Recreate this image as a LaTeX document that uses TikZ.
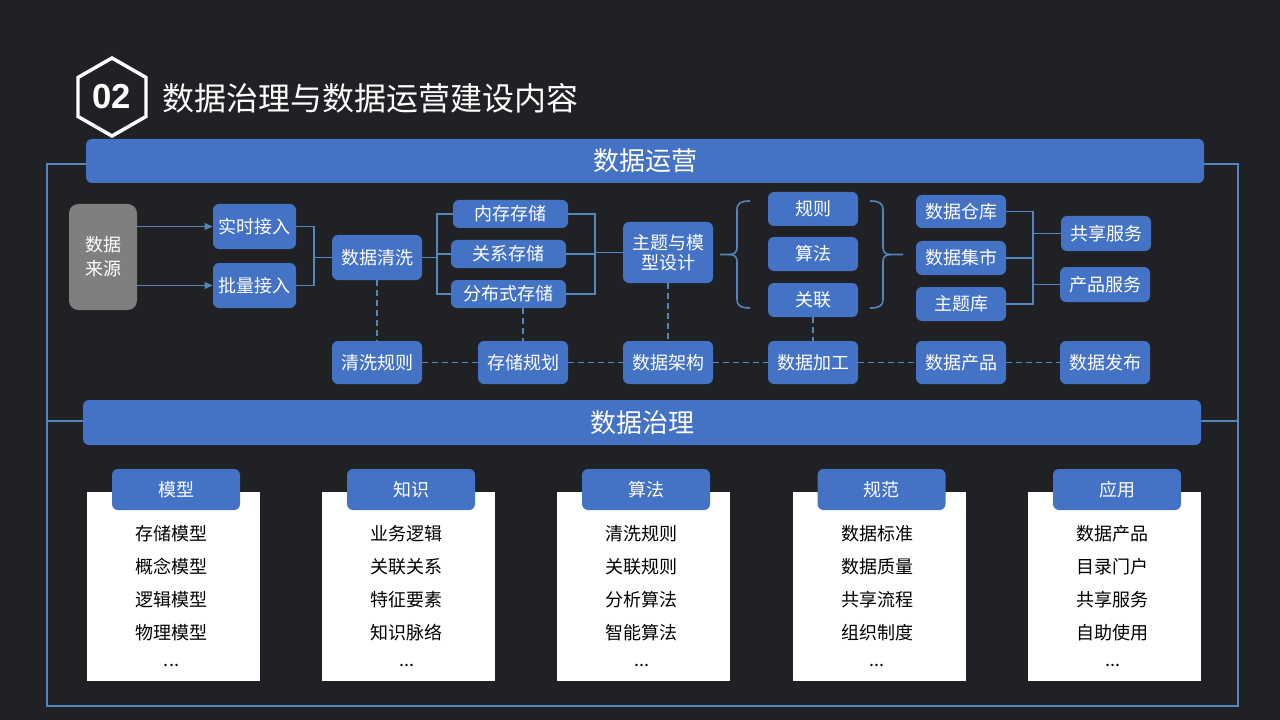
\documentclass[tikz,border=0pt]{standalone}
\usepackage{fontspec}
\setmainfont{Liberation Sans}
\newfontfamily\cjk{Noto Sans CJK SC}
\usetikzlibrary{arrows.meta}
\definecolor{bgc}{RGB}{32,33,36}
\definecolor{bfill}{RGB}{68,114,196}
\definecolor{lnc}{RGB}{84,134,190}
\definecolor{gfill}{RGB}{127,127,127}
% \bx[style]{name}{x1}{y1}{x2}{y2}{text}
\newcommand\bx[7][]{\node[box,#1, minimum width={(#5-#3)*0.75pt}, minimum height={(#6-#4)*0.75pt}] (#2) at ({(#3+#5)/2},{(#4+#6)/2}) {#7};}
\begin{document}
\begin{tikzpicture}[x=0.75pt,y=-0.75pt,
  box/.style={fill=bfill, rounded corners=4.5pt, inner sep=0pt, text=white,
    font=\cjk\fontsize{13.5}{15}\selectfont, align=center},
  gbox/.style={fill=gfill, rounded corners=7pt},
  ribbon/.style={rounded corners=4.5pt, font=\cjk\fontsize{19.5}{22}\selectfont},
  conn/.style={draw=lnc, line width=1.2pt},
  dashconn/.style={draw=lnc, line width=1.1pt, dash pattern=on 4.5pt off 3pt},
  arr/.style={conn, -{Triangle[length=6pt,width=5pt]}},
  card/.style={fill=white, inner sep=0pt, minimum width=129.75pt, minimum height=141.75pt},
  tab/.style={box, minimum width=96pt, minimum height=30.75pt, rounded corners=4.5pt},
  ctext/.style={inner sep=0pt, text=black, font=\cjk\fontsize{13.5}{15}\selectfont}]
\fill[bgc] (0,0) rectangle (1280,720);
\useasboundingbox (0,0) rectangle (1280,720);

% header
\draw[white, line width=2.6pt, line join=miter] (112,58) -- (146,77.5) -- (146,116.5) -- (112,136) -- (78,116.5) -- (78,77.5) -- cycle;
\node[text=white, font=\fontsize{26}{28}\selectfont\bfseries, inner sep=0pt] (num) at (112,97) {02};
\node[anchor=west, text=white, font=\cjk\fontsize{24}{26}\selectfont, inner sep=0pt] (title) at (162,98) {数据治理与数据运营建设内容};

% frame
\draw[lnc, line width=1.5pt] (47,164) rectangle (1238,706);
\draw[lnc, line width=1.5pt] (47,421) -- (1238,421);

% ribbons
\bx[ribbon]{yy}{86}{139}{1204}{183}{数据运营}
\bx[ribbon]{zl}{83}{400}{1201}{445}{数据治理}

% flow nodes
\bx[gbox, font=\cjk\fontsize{13.5}{18}\selectfont]{src}{69}{204}{137}{310}{数据\\来源}
\bx{rt}{213}{204}{296}{249}{实时接入}
\bx{pl}{213}{263}{296}{308}{批量接入}
\bx{qx}{332}{235}{422}{280}{数据清洗}
\bx{nc}{453}{200}{568}{228}{内存存储}
\bx{gx}{451}{240}{566}{268}{关系存储}
\bx{fb}{451}{280}{566}{308}{分布式存储}
\bx[font=\cjk\fontsize{13.5}{15}\selectfont]{zt}{623}{222}{713}{283}{主题与模\\型设计}
\bx{gz}{768}{192}{858}{226}{规则}
\bx{sf}{768}{237}{858}{271}{算法}
\bx{gl}{768}{283}{858}{317}{关联}
\bx{ck}{916}{195}{1006}{228}{数据仓库}
\bx{js}{916}{241}{1006}{275}{数据集市}
\bx{zk}{916}{287}{1006}{321}{主题库}
\bx{gxfw}{1061}{216}{1151}{251}{共享服务}
\bx{cpfw}{1060}{267}{1150}{302}{产品服务}
% bottom row
\bx{qg}{332}{341}{422}{384}{清洗规则}
\bx{cg}{478}{341}{568}{384}{存储规划}
\bx{jg}{623}{341}{713}{384}{数据架构}
\bx{jgg}{768}{341}{858}{384}{数据加工}
\bx{cpp}{916}{341}{1006}{384}{数据产品}
\bx{fbb}{1060}{341}{1150}{384}{数据发布}

% connectors
\draw[arr] (src.east |- rt.west) -- (rt.west);
\draw[arr] (src.east |- pl.west) -- (pl.west);
\coordinate (j1) at (314,257.5);
\draw[conn] (rt.east) -| (j1) |- (pl.east);
\draw[conn] (j1) -- (qx.west);
\coordinate (j2) at (437,257.5);
\draw[conn] (qx.east) -- (j2);
\draw[conn] (nc.west) -| (j2) |- (fb.west);
\draw[conn] (gx.west) -- (gx.west -| j2);
\coordinate (j3) at (595,252.5);
\draw[conn] (nc.east) -| (j3) |- (fb.east);
\draw[conn] (gx.east) -- (gx.east -| j3);
\draw[conn] (j3) -- (zt.west);
% braces
\draw[conn] (750,201) .. controls (741,201) and (737,203) .. (737,210) -- (737,247) .. controls (737,252) and (735,254.5) .. (729,254.5) -- (720,254.5);
\draw[conn] (750,308) .. controls (741,308) and (737,306) .. (737,299) -- (737,262) .. controls (737,257) and (735,254.5) .. (729,254.5);
\draw[conn] (870,201) .. controls (879,201) and (883,203) .. (883,210) -- (883,247) .. controls (883,252) and (885,254.5) .. (891,254.5) -- (903,254.5);
\draw[conn] (870,308) .. controls (879,308) and (883,306) .. (883,299) -- (883,262) .. controls (883,257) and (885,254.5) .. (891,254.5);
% right
\coordinate (j4) at (1033,258);
\draw[conn] (ck.east) -| (j4) |- (zk.east);
\draw[conn] (js.east) -- (js.east -| j4);
\draw[conn] (gxfw.west) -- (gxfw.west -| j4);
\draw[conn] (cpfw.west) -- (cpfw.west -| j4);
% dashed
\draw[dashconn] (qx.south) -- (qg.north);
\draw[dashconn] (cg.north |- fb.south) -- (cg.north);
\draw[dashconn] (zt.south) -- (jg.north);
\draw[dashconn] (gl.south) -- (jgg.north);
\draw[dashconn] (qg.east) -- (cg.west);
\draw[dashconn] (cg.east) -- (jg.west);
\draw[dashconn] (jg.east) -- (jgg.west);
\draw[dashconn] (jgg.east) -- (cpp.west);
\draw[dashconn] (cpp.east) -- (fbb.west);

% cards
\foreach \cx/\tt/\a/\b/\c/\d [count=\k] in {
  173.5/模型/存储模型/概念模型/逻辑模型/物理模型,
  408.5/知识/业务逻辑/关联关系/特征要素/知识脉络,
  643.5/算法/清洗规则/关联规则/分析算法/智能算法,
  879/规范/数据标准/数据质量/共享流程/组织制度,
  1114.5/应用/数据产品/目录门户/共享服务/自助使用}{
  \node[card] (card\k) at (\cx,586.5) {};
  \node[tab] (tab\k) at (\cx+2.5,489.5) {\tt};
  \node[ctext] (la\k) at (\cx-2,534) {\a};
  \node[ctext] (lb\k) at (\cx-2,567) {\b};
  \node[ctext] (lc\k) at (\cx-2,600) {\c};
  \node[ctext] (ld\k) at (\cx-2,633) {\d};
  \node[ctext, anchor=base] (le\k) at (\cx-2,666) {...};
}
\end{tikzpicture}
\end{document}
